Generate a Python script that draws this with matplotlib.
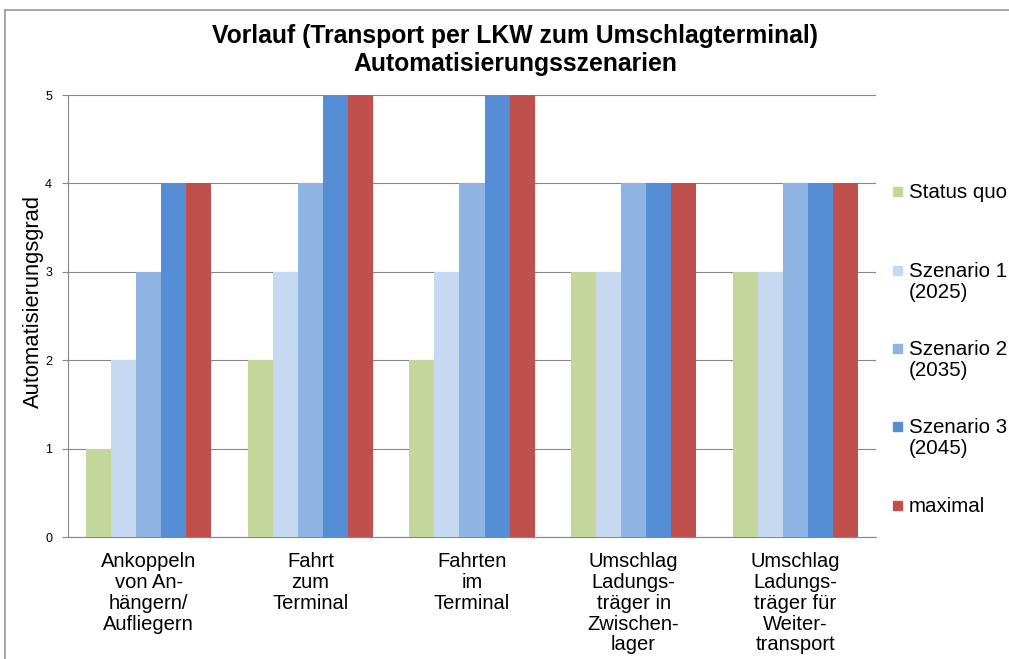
import matplotlib
matplotlib.use('Agg')
import matplotlib.pyplot as plt
import numpy as np
from matplotlib.patches import Rectangle
from matplotlib.lines import Line2D

plt.rcParams['font.family'] = ['Liberation Sans', 'DejaVu Sans']

categories = ['Ankoppeln\nvon An-\nhängern/\nAufliegern',
              'Fahrt\nzum\nTerminal',
              'Fahrten\nim\nTerminal',
              'Umschlag\nLadungs-\nträger in\nZwischen-\nlager',
              'Umschlag\nLadungs-\nträger für\nWeiter-\ntransport']
series_names = ['Status quo', 'Szenario 1\n(2025)', 'Szenario 2\n(2035)',
                'Szenario 3\n(2045)', 'maximal']
status_quo = [1, 2, 2, 3, 3]
szenario_1 = [2, 3, 3, 3, 3]
szenario_2 = [3, 4, 4, 4, 4]
szenario_3 = [4, 5, 5, 4, 4]
maximal = [4, 5, 5, 4, 4]
colors = ['#C3D69B', '#C6D9F1', '#8EB4E3', '#558ED5', '#C0504D']

W, H = 1009, 659
fig = plt.figure(figsize=(W / 100, H / 100), dpi=100)
ax = fig.add_axes([68 / W, 1 - 537 / H, (876 - 68) / W, (537 - 95) / H])

x = np.arange(len(categories))
bw = 0.155
all_series = [status_quo, szenario_1, szenario_2, szenario_3, maximal]
for i, vals in enumerate(all_series):
    ax.bar(x + (i - 2) * bw, vals, width=bw, color=colors[i], zorder=3)

ax.set_xlim(-0.5, len(categories) - 0.5)
ax.set_ylim(0, 5)
ax.set_yticks(range(6))
ax.grid(axis='y', color='#868686', linewidth=0.8, zorder=0)
ax.set_xticks(x)
ax.set_xticklabels(categories, fontsize=14.5, linespacing=1.12, va='top')
ax.tick_params(axis='x', length=0, pad=11)
ax.tick_params(axis='y', length=4.5, color='#868686', labelsize=9, pad=7)
for s in ['top', 'right']:
    ax.spines[s].set_visible(False)
for s in ['left', 'bottom']:
    ax.spines[s].set_color('#868686')
    ax.spines[s].set_linewidth(0.8)
ax.set_ylabel('Automatisierungsgrad', fontsize=15.8)
ax.yaxis.set_label_coords(-24 / (876 - 68), 0.532)

fig.text(515 / W, 1 - 24 / H,
         'Vorlauf (Transport per LKW zum Umschlagterminal)\nAutomatisierungsszenarien',
         ha='center', va='top', fontsize=17.8, fontweight='bold', linespacing=1.2)

# legend, Excel style
tops = [183, 262, 340, 418, 497]
for name, col, t in zip(series_names, colors, tops):
    fig.patches.append(Rectangle((893 / W, 1 - (t + 13) / H), 9 / W, 9 / H,
                                 transform=fig.transFigure, color=col))
    fig.text(909 / W, 1 - t / H, name, ha='left', va='top', fontsize=14.8,
             linespacing=1.15)

# chart border (top and left visible)
fig.add_artist(Line2D([5 / W, 1], [1 - 10 / H, 1 - 10 / H], color='#999999', lw=1.2))
fig.add_artist(Line2D([5 / W, 5 / W], [0, 1 - 10 / H], color='#999999', lw=1.2))

fig.savefig('out.png', dpi=100)
